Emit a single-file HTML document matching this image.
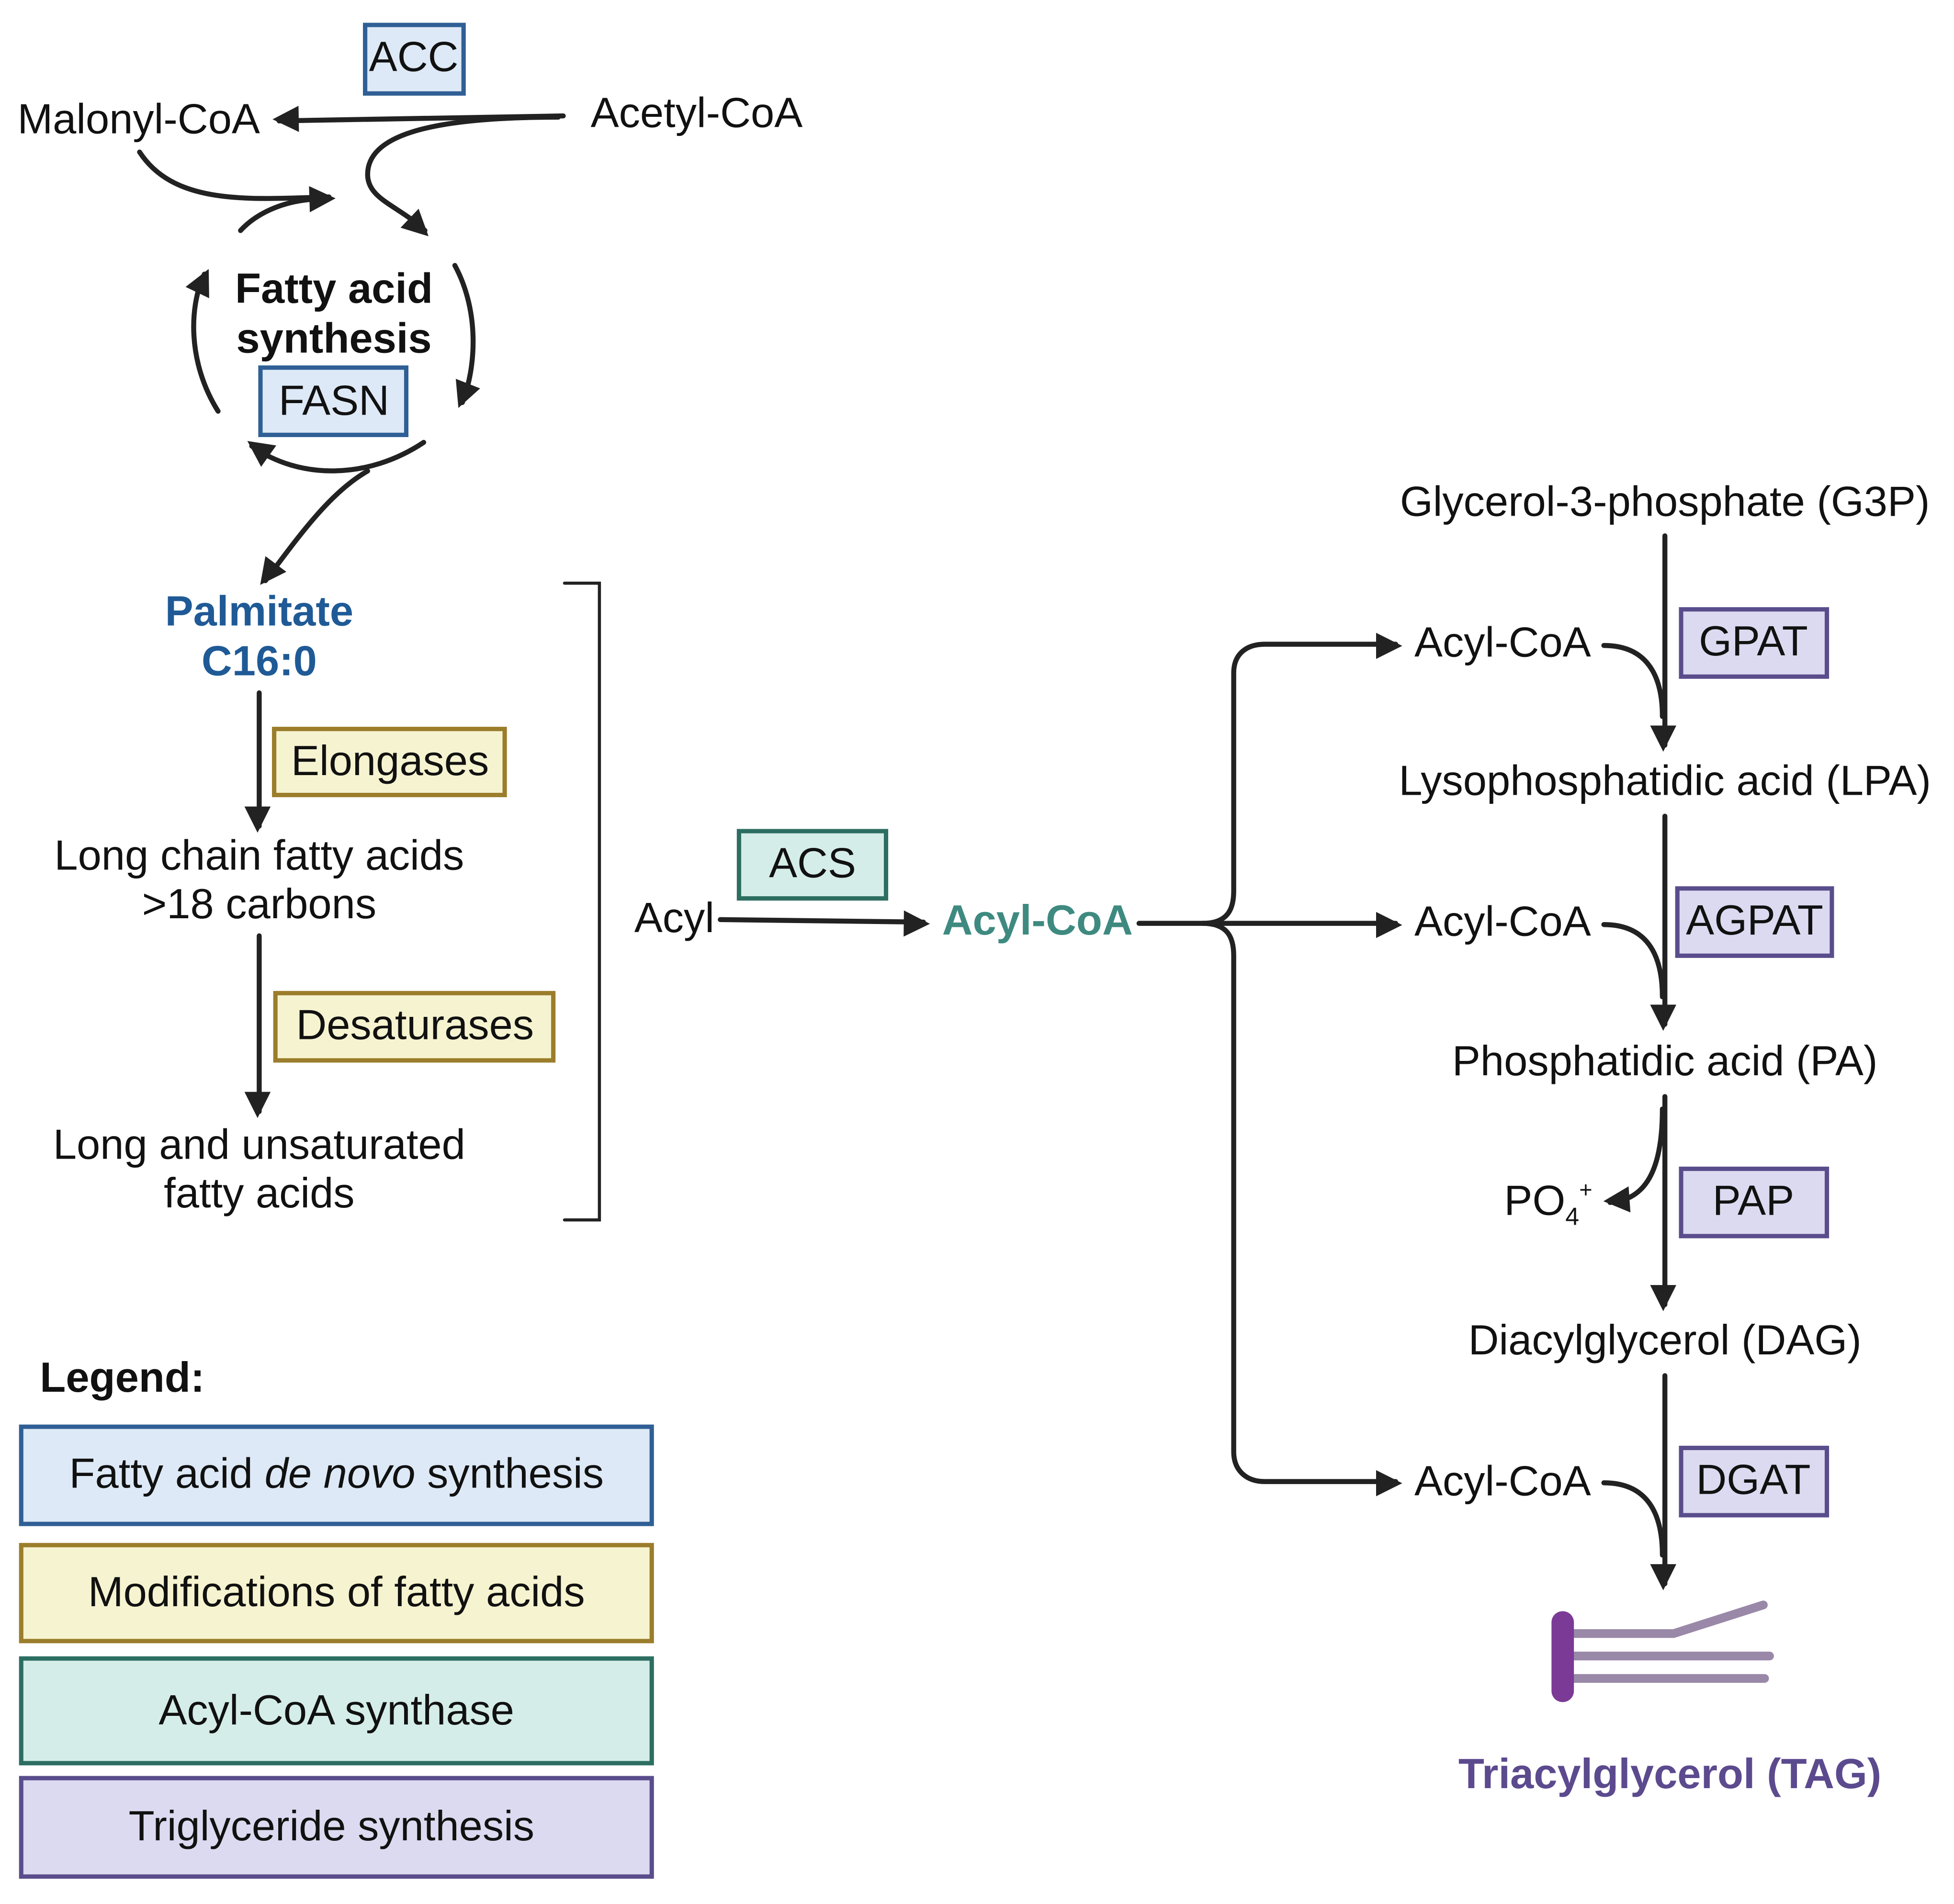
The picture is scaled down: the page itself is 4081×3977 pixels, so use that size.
<!DOCTYPE html>
<html><head><meta charset="utf-8"><style>
html,body{margin:0;padding:0;background:#fff;}
svg{display:block;}
text{font-family:"Liberation Sans",sans-serif;fill:#111;}
</style></head><body>
<svg width="4081" height="3977" viewBox="0 0 1568 1528" xmlns="http://www.w3.org/2000/svg">
<defs>
<marker id="a" viewBox="0 0 10 10" refX="9" refY="5" markerWidth="7" markerHeight="7" markerUnits="userSpaceOnUse" orient="auto" style="overflow:visible">
<path d="M0,0 L10,5 L0,10 z" fill="#222" transform="scale(3) translate(-4.5,-2.7)"/>
</marker>
</defs>
<g fill="none" stroke="#222" stroke-width="4" stroke-linecap="round">
<!-- top -->
<path d="M452,93 L224,97" marker-end="url(#a)"/>
<path d="M448,94 C340,94 295,110 295,140 C295,160 320,165 341,185" marker-end="url(#a)"/>
<path d="M112,122 C140,165 200,160 264,158" marker-end="url(#a)"/>
<path d="M193,185 C205,172 225,162 250,160"/>
<path d="M175,330 C150,290 152,245 164,220" marker-end="url(#a)"/>
<path d="M365,213 C385,250 382,295 371,323" marker-end="url(#a)"/>
<path d="M340,355 C295,385 240,385 202,358" marker-end="url(#a)"/>
<path d="M295,378 C265,395 240,430 213,466" marker-end="url(#a)"/>
<!-- left column -->
<path d="M208,556 L208,663" marker-end="url(#a)"/>
<path d="M208,751 L208,892" marker-end="url(#a)"/>
<path d="M453,468 L481,468 L481,979 L453,979" stroke-width="2.5"/>
<!-- middle -->
<path d="M578,738 L741,740" marker-end="url(#a)"/>
<path d="M914,741 L1120,741" marker-end="url(#a)"/>
<path d="M965,741 C985,741 990,730 990,715 L990,540 C990,525 1000,517 1015,517 L1120,517" marker-end="url(#a)"/>
<path d="M965,741 C985,741 990,752 990,767 L990,1165 C990,1180 1000,1189 1015,1189 L1120,1189" marker-end="url(#a)"/>
<!-- right column -->
<path d="M1336,430 L1336,598" marker-end="url(#a)"/>
<path d="M1287,518 C1320,518 1334,540 1334,575"/>
<path d="M1336,655 L1336,822" marker-end="url(#a)"/>
<path d="M1287,742 C1320,742 1334,764 1334,800"/>
<path d="M1336,880 L1336,1047" marker-end="url(#a)"/>
<path d="M1334,890 C1334,940 1320,963 1292,965" marker-end="url(#a)"/>
<path d="M1336,1104 L1336,1271" marker-end="url(#a)"/>
<path d="M1287,1190 C1320,1190 1334,1212 1334,1248"/>
</g>
<!-- TAG icon -->
<g stroke-linecap="round" fill="none">
<path d="M1258,1311 L1343,1311 L1415,1288" stroke="#9a88a8" stroke-width="7"/>
<path d="M1258,1329 L1420,1329" stroke="#9a88a8" stroke-width="7"/>
<path d="M1258,1347 L1416,1347" stroke="#9a88a8" stroke-width="7"/>
<path d="M1254,1302 L1254,1357" stroke="#7b3a96" stroke-width="18"/>
</g>
<!-- boxes -->
<g stroke-width="3.5">
<rect x="293" y="20" width="79" height="55" fill="#dde9f6" stroke="#2f5f95"/>
<rect x="209" y="295" width="117" height="54" fill="#dde9f6" stroke="#2f5f95"/>
<rect x="220" y="585" width="185" height="53" fill="#f6f3d0" stroke="#9b7d2b"/>
<rect x="221" y="797" width="223" height="54" fill="#f6f3d0" stroke="#9b7d2b"/>
<rect x="593" y="667" width="118" height="54" fill="#d5ede8" stroke="#2d6e62"/>
<rect x="1349" y="489" width="117" height="54" fill="#dcdaf0" stroke="#5a4d8c"/>
<rect x="1346" y="713" width="124" height="54" fill="#dcdaf0" stroke="#5a4d8c"/>
<rect x="1349" y="938" width="117" height="54" fill="#dcdaf0" stroke="#5a4d8c"/>
<rect x="1349" y="1162" width="117" height="54" fill="#dcdaf0" stroke="#5a4d8c"/>
<rect x="17" y="1145" width="506" height="78" fill="#dde9f6" stroke="#2f5f95"/>
<rect x="17" y="1240" width="506" height="77" fill="#f6f3d0" stroke="#9b7d2b"/>
<rect x="17" y="1331" width="506" height="84" fill="#d5ede8" stroke="#2d6e62"/>
<rect x="17" y="1427" width="506" height="79" fill="#dcdaf0" stroke="#5a4d8c"/>
</g>
<g font-size="34">
<text x="332" y="57" text-anchor="middle">ACC</text>
<text x="14" y="107">Malonyl-CoA</text>
<text x="474" y="102">Acetyl-CoA</text>
<text x="268" y="243" text-anchor="middle" font-weight="bold">Fatty acid</text>
<text x="268" y="283" text-anchor="middle" font-weight="bold">synthesis</text>
<text x="268" y="333" text-anchor="middle">FASN</text>
<text x="208" y="502" text-anchor="middle" font-weight="bold" style="fill:#1f5a96">Palmitate</text>
<text x="208" y="542" text-anchor="middle" font-weight="bold" style="fill:#1f5a96">C16:0</text>
<text x="313" y="622" text-anchor="middle">Elongases</text>
<text x="208" y="698" text-anchor="middle">Long chain fatty acids</text>
<text x="208" y="737" text-anchor="middle">&gt;18 carbons</text>
<text x="333" y="834" text-anchor="middle">Desaturases</text>
<text x="208" y="930" text-anchor="middle">Long and unsaturated</text>
<text x="208" y="969" text-anchor="middle">fatty acids</text>
<text x="32" y="1117" font-weight="bold">Legend:</text>
<text x="270" y="1194" text-anchor="middle">Fatty acid <tspan font-style="italic">de novo</tspan> synthesis</text>
<text x="270" y="1289" text-anchor="middle">Modifications of fatty acids</text>
<text x="270" y="1384" text-anchor="middle">Acyl-CoA synthase</text>
<text x="266" y="1477" text-anchor="middle">Triglyceride synthesis</text>
<text x="509" y="748">Acyl</text>
<text x="652" y="704" text-anchor="middle">ACS</text>
<text x="756" y="750" font-weight="bold" style="fill:#3e8a80">Acyl-CoA</text>
<text x="1336" y="414" text-anchor="middle">Glycerol-3-phosphate (G3P)</text>
<text x="1135" y="527">Acyl-CoA</text>
<text x="1407" y="526" text-anchor="middle">GPAT</text>
<text x="1336" y="638" text-anchor="middle">Lysophosphatidic acid (LPA)</text>
<text x="1135" y="751">Acyl-CoA</text>
<text x="1408" y="750" text-anchor="middle">AGPAT</text>
<text x="1336" y="863" text-anchor="middle">Phosphatidic acid (PA)</text>
<text x="1207" y="975">PO<tspan font-size="20" dy="8">4</tspan><tspan font-size="18" dy="-22">+</tspan></text>
<text x="1407" y="975" text-anchor="middle">PAP</text>
<text x="1336" y="1087" text-anchor="middle">Diacylglycerol (DAG)</text>
<text x="1135" y="1200">Acyl-CoA</text>
<text x="1407" y="1199" text-anchor="middle">DGAT</text>
<text x="1340" y="1435" text-anchor="middle" font-weight="bold" style="fill:#5c4a8e">Triacylglycerol (TAG)</text>
</g>
</svg>
</body></html>
